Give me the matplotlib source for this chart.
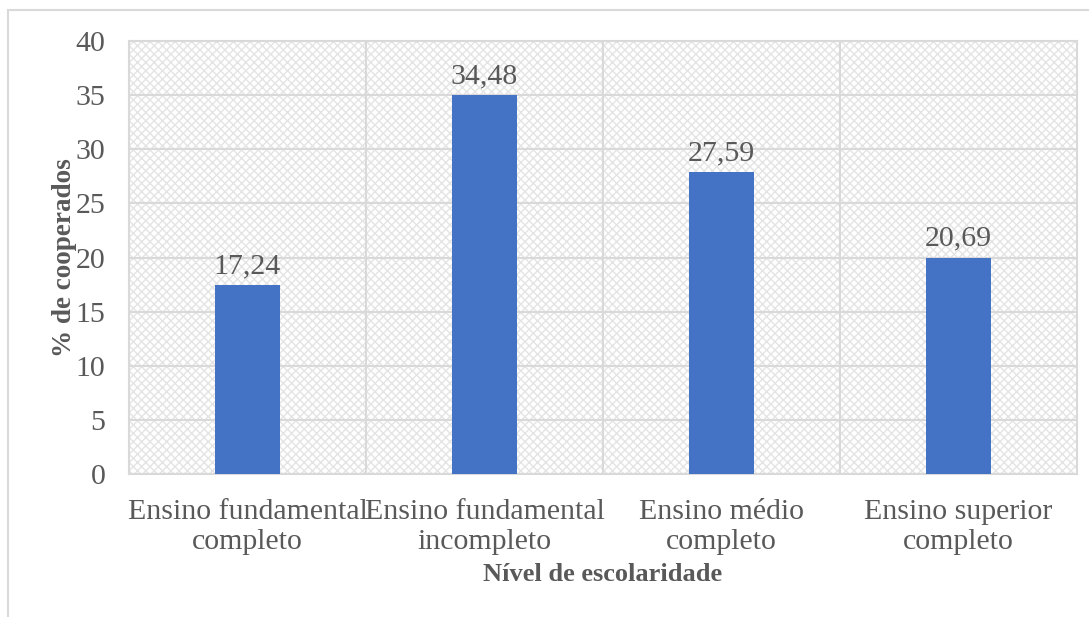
import numpy as np
import matplotlib.pyplot as plt
from matplotlib.patches import Rectangle

# data
niveis = ['Ensino fundamental\ncompleto', 'Ensino fundamental\nincompleto',
          'Ensino médio\ncompleto', 'Ensino superior\ncompleto']
alturas = [17.45, 35.0, 27.9, 20.0]           # bar heights as drawn
rotulos = ['17,24', '34,48', '27,59', '20,69']  # data labels as printed
yticks = [0, 5, 10, 15, 20, 25, 30, 35, 40]

plt.rcParams['font.family'] = ['Liberation Serif', 'DejaVu Serif']
cinza = '#595959'

fig = plt.figure(figsize=(10.89, 6.17), dpi=100)
ax = fig.add_axes([129/1089, 1-474/617, (1077-129)/1089, (474-41)/617])

# outer chart border
fig.patches.append(Rectangle((8/1089, -0.1), 1.2, (617-10)/617 + 0.1,
                             transform=fig.transFigure, fill=False,
                             edgecolor='#d9d9d9', linewidth=1.5, zorder=0))

x = np.arange(len(niveis))
ax.bar(x, alturas, width=0.275, color='#4472c4', zorder=3)
for xi, h, r in zip(x, alturas, rotulos):
    ax.text(xi, h + 0.55, r, ha='center', va='bottom', fontsize=21.5, color=cinza)

ax.set_xlim(-0.5, len(niveis) - 0.5)
ax.set_ylim(0, 40)
ax.set_yticks(yticks)
ax.set_xticks(x)
ax.set_xticklabels(niveis, fontsize=21.5, color=cinza, linespacing=1.2)
ax.set_xticks(x[:-1] + 0.5, minor=True)
ax.tick_params(axis='y', labelsize=21.5, labelcolor=cinza, length=0, pad=17)
ax.tick_params(axis='x', which='both', length=0, pad=18)

# patterned background
ax.add_patch(Rectangle((0, 0), 1, 1, transform=ax.transAxes, facecolor='white',
                       edgecolor='#e4e4e4', hatch='xxxx', linewidth=0, zorder=0))
ax.grid(axis='y', color='#d9d9d9', linewidth=1.5, zorder=1)
ax.grid(axis='x', which='minor', color='#d9d9d9', linewidth=1.5, zorder=1)
ax.grid(axis='x', which='major', visible=False)
for s in ax.spines.values():
    s.set_color('#d9d9d9')
    s.set_linewidth(1.5)

ax.set_ylabel('% de cooperados', fontsize=19.5, fontweight='bold', color=cinza, labelpad=-1)
ax.set_xlabel('Nível de escolaridade', fontsize=19, fontweight='bold', color=cinza, labelpad=6)

fig.savefig('out.png', dpi=100)
